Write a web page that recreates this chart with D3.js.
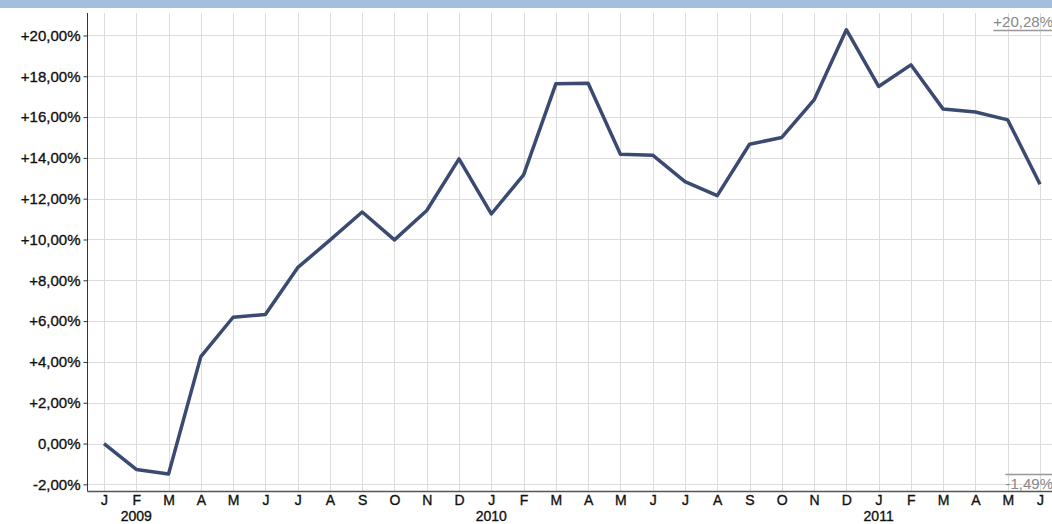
<!DOCTYPE html>
<html>
<head>
<meta charset="utf-8">
<script src="https://cdn.jsdelivr.net/npm/d3@7"></script>
<style>
  html, body { margin: 0; padding: 0; background: #fff; }
  svg { display: block; }
  text { font-family: "Liberation Sans", Arial, sans-serif; }
</style>
</head>
<body>
<svg id="chart" width="1052" height="524"></svg>
<script>
// ---- data ----
const monthLabels = ["J","F","M","A","M","J","J","A","S","O","N","D",
                     "J","F","M","A","M","J","J","A","S","O","N","D",
                     "J","F","M","A","M","J"];
const monthYears = [2009,2009,2009,2009,2009,2009,2009,2009,2009,2009,2009,2009,
                    2010,2010,2010,2010,2010,2010,2010,2010,2010,2010,2010,2010,
                    2011,2011,2011,2011,2011,2011];
const values = [0.00, -1.27, -1.49, 4.26, 6.19, 6.32, 8.62, 9.97, 11.35, 9.98, 11.42, 13.95,
                11.25, 13.17, 17.63, 17.66, 14.18, 14.13, 12.84, 12.15, 14.67, 15.00, 16.84, 20.28,
                17.50, 18.56, 16.39, 16.25, 15.86, 12.71];
const yTicks = [-2, 0, 2, 4, 6, 8, 10, 12, 14, 16, 18, 20];
const yearLabels = ["2009", "2010", "2011"];

// ---- layout ----
const W = 1052, H = 524;
const pLeft = 87.5, pRight = 1052, pTop = 13, pBottom = 491.5;

const svg = d3.select("#chart");

// top bar
svg.append("rect").attr("x", 0).attr("y", 0).attr("width", W).attr("height", 8)
  .attr("fill", "#a4bedd");

const idx = d3.range(values.length);
const x = d3.scalePoint().domain(idx).range([104, 1040]);
const y = d3.scaleLinear().domain([-2.35, 21.1]).range([pBottom, pTop]);

const fmt = v => {
  const s = Math.abs(v).toFixed(2).replace(".", ",") + "%";
  return v > 0 ? "+" + s : (v < 0 ? "-" + s : s);
};

// grid
const grid = svg.append("g");
grid.selectAll("line.h").data(yTicks).join("line")
  .attr("x1", pLeft).attr("x2", pRight)
  .attr("y1", d => Math.round(y(d)) + 0.5).attr("y2", d => Math.round(y(d)) + 0.5)
  .attr("stroke", "#dcdcdc").attr("stroke-width", 1);
grid.selectAll("line.v").data(idx).join("line")
  .attr("x1", d => Math.round(x(d)) + 0.5).attr("x2", d => Math.round(x(d)) + 0.5)
  .attr("y1", pTop).attr("y2", pBottom)
  .attr("stroke", "#dcdcdc").attr("stroke-width", 1);

const heavy = sel => sel.attr("fill", "#111").attr("stroke", "#111").attr("stroke-width", 0.35)
  .attr("font-family", "'Liberation Sans', Arial, sans-serif");

// y axis
const yAxis = d3.axisLeft(y).tickValues(yTicks).tickFormat(fmt).tickSize(4).tickPadding(3);
const gy = svg.append("g").attr("transform", `translate(${pLeft},0)`).call(yAxis);
gy.select(".domain").attr("stroke", "#333").attr("d", `M0,${pTop}V${pBottom}`);
gy.selectAll(".tick text").attr("font-size", 15).call(heavy);
gy.selectAll(".tick line").attr("stroke", "#333");

// x axis
const xAxis = d3.axisBottom(x).tickFormat(i => monthLabels[i]).tickSize(0).tickPadding(3.5);
const gx = svg.append("g").attr("transform", `translate(0,${pBottom})`).call(xAxis);
gx.select(".domain").attr("d", `M${pLeft},0H${pRight}`).attr("stroke", "#555").attr("stroke-width", 1.5);
gx.selectAll(".tick text").attr("font-size", 14).call(heavy);

// year labels: under first January of each year (first year shifted to fit beside the axis)
yearLabels.forEach((yr, k) => {
  let i = monthYears.indexOf(+yr);
  if (k === 0) i = i + 1;
  svg.append("text").attr("x", x(i)).attr("y", 520.6)
    .attr("text-anchor", "middle").attr("font-size", 14).call(heavy)
    .text(yr);
});

// line
const line = d3.line().x(i => x(i)).y(i => y(values[i]));
svg.append("path").datum(idx).attr("d", line)
  .attr("fill", "none").attr("stroke", "#3a4a70").attr("stroke-width", 3.5)
  .attr("stroke-linejoin", "round").attr("stroke-linecap", "butt");

// max / min markers
const maxV = d3.max(values), minV = d3.min(values);
const labelRight = 1053;
function marker(v, above) {
  const t = svg.append("text").attr("x", labelRight).attr("text-anchor", "end")
    .attr("font-size", 15).attr("fill", "#888").text(fmt(v));
  const yy = Math.round(y(v)) + 0.5;
  t.attr("y", above ? yy - 3.5 : yy + 14);
  const w = t.node().getComputedTextLength();
  svg.append("line").attr("x1", labelRight - w).attr("x2", pRight)
    .attr("y1", yy).attr("y2", yy).attr("stroke", "#999").attr("stroke-width", 1.5);
}
marker(maxV, true);
marker(minV, false);
</script>
</body>
</html>
